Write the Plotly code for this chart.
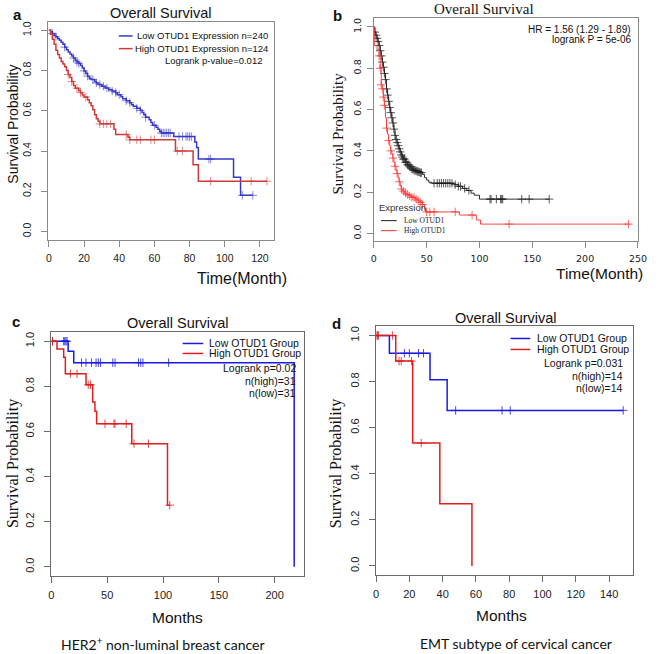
import plotly.graph_objects as go

W, H = 660, 654

# ---------------- Panel a (TCGA-like, months) ----------------
A_LOW_T = [0, 1, 2, 3, 4, 5, 6, 7, 8, 9, 10, 11, 12, 13, 14, 15, 16, 17, 18, 19, 20, 21, 22, 23, 24, 26, 27, 28,
           30, 32, 34, 36, 38, 39, 41, 42, 44, 46, 47, 48, 50, 52, 53, 54, 55, 57, 58, 59, 61, 62, 63, 64, 71,
           83, 84, 85, 105, 109, 116]
A_LOW_S = [1.0, 0.992, 0.984, 0.975, 0.967, 0.958, 0.95, 0.94, 0.93, 0.916, 0.903, 0.892, 0.882, 0.872, 0.862,
           0.85, 0.842, 0.835, 0.825, 0.812, 0.798, 0.785, 0.772, 0.762, 0.755, 0.745, 0.738, 0.73, 0.722, 0.713,
           0.705, 0.698, 0.69, 0.68, 0.67, 0.66, 0.65, 0.64, 0.63, 0.622, 0.612, 0.602, 0.592, 0.58, 0.568, 0.555,
           0.542, 0.528, 0.518, 0.508, 0.498, 0.49, 0.472, 0.445, 0.418, 0.36, 0.27, 0.18, 0.18]
A_LOW_CENS = [2, 4, 9, 14, 16, 17, 20, 22, 25, 27, 29, 31, 33, 36, 38, 40, 44, 46, 50, 52, 55, 60, 64, 65, 66, 67,
              68, 69, 74, 76, 78, 79, 80, 81, 91, 92, 110, 116]
A_HIGH_T = [0, 1, 2, 3, 4, 5, 6, 7, 8, 9, 10, 11, 12, 13, 14, 15, 17, 18, 19, 20, 22, 23, 24, 25, 26, 27, 28, 29,
            37, 38, 45, 46, 72, 82, 85, 124]
A_HIGH_S = [1.0, 0.98, 0.955, 0.93, 0.9, 0.88, 0.862, 0.845, 0.832, 0.818, 0.8, 0.78, 0.765, 0.745, 0.725, 0.712,
            0.7, 0.69, 0.678, 0.668, 0.655, 0.64, 0.625, 0.605, 0.58, 0.56, 0.548, 0.535, 0.508, 0.482, 0.468,
            0.456, 0.40, 0.332, 0.25, 0.25]
A_HIGH_CENS = [11, 13, 16, 18, 21, 29, 31, 33, 35, 44, 46, 50, 52, 58, 60, 73, 76, 92, 115, 124]

# ---------------- Panel b ----------------
B_LOW_T = [0, 1, 2, 3, 4, 5, 6, 7, 8, 9, 10, 11, 12, 13, 14, 15, 16, 17, 18, 19, 20, 21, 22, 23, 24, 25, 26, 27,
           28, 30, 32, 34, 36, 38, 40, 42, 44, 46, 48, 50, 52, 55, 76, 80, 84, 88, 92, 95, 100, 166]
B_LOW_S = [1.0, 0.975, 0.96, 0.945, 0.93, 0.91, 0.885, 0.86, 0.83, 0.805, 0.775, 0.745, 0.70, 0.67, 0.64, 0.61,
           0.585, 0.56, 0.535, 0.505, 0.475, 0.455, 0.44, 0.425, 0.41, 0.395, 0.38, 0.37, 0.36, 0.345, 0.332,
           0.322, 0.312, 0.306, 0.302, 0.298, 0.294, 0.285, 0.27, 0.258, 0.248, 0.243, 0.236, 0.228, 0.218,
           0.208, 0.195, 0.185, 0.166, 0.166]
B_LOW_CENS = [1, 2, 3, 4, 5, 6, 7, 8, 9, 10, 11, 12, 13, 14, 15, 16, 17, 18, 19, 20, 21, 22, 23, 24, 25, 26, 27,
              28, 29, 30, 31, 32, 33, 34, 35, 36, 37, 38, 39, 40, 41, 42, 43, 44, 45, 57, 60, 62, 64, 66, 68, 70,
              72, 74, 77, 80, 82, 86, 90, 110, 111, 116, 120, 121, 122, 140, 147, 166]
B_HIGH_T = [0, 0.5, 3, 5, 6, 7, 8, 9, 10, 11, 12, 13, 14, 15, 16, 17, 18, 19, 20, 21, 22, 23, 24, 25, 26, 27, 29,
            31, 33, 36, 39, 42, 44, 46, 48, 49, 81, 97, 101, 241]
B_HIGH_S = [1.0, 0.91, 0.89, 0.86, 0.80, 0.72, 0.70, 0.66, 0.62, 0.56, 0.51, 0.48, 0.45, 0.425, 0.40, 0.385,
            0.365, 0.345, 0.325, 0.305, 0.29, 0.27, 0.25, 0.23, 0.215, 0.205, 0.195, 0.188, 0.182, 0.175, 0.166,
            0.158, 0.15, 0.14, 0.12, 0.104, 0.089, 0.065, 0.045, 0.045]
B_HIGH_CENS = [5, 6, 7, 8, 9, 10, 12, 14, 16, 18, 20, 22, 24, 26, 28, 30, 32, 34, 36, 38, 40, 42, 44, 46, 50, 53,
               57, 77, 93, 128, 241]

# ---------------- Panel c ----------------
C_LOW_T = [0, 15, 20, 217.5]
C_LOW_S = [1.0, 0.955, 0.905, 0.0]
C_LOW_CENS = [1, 11, 12, 13, 14, 27, 31, 36, 40, 42, 44, 55, 57, 78, 80, 82, 105]
C_HIGH_T = [0, 5, 11, 12.5, 31, 37, 39, 40.5, 72, 104, 106]
C_HIGH_S = [1.0, 0.966, 0.929, 0.856, 0.807, 0.73, 0.69, 0.634, 0.546, 0.273, 0.273]
C_HIGH_CENS = [1, 17, 23, 33, 35, 48, 56, 57, 67, 74, 87, 106]

# ---------------- Panel d ----------------
D_LOW_T = [0, 8, 32.4, 42.7, 148.5]
D_LOW_S = [1.0, 0.923, 0.808, 0.675, 0.675]
D_LOW_CENS = [1, 17, 20, 25.5, 28.5, 47.8, 75.7, 80.6, 148.5]
D_HIGH_T = [0, 11.8, 22, 38.3, 57.6]
D_HIGH_S = [1.0, 0.889, 0.533, 0.27, 0.0]
D_HIGH_CENS = [0.5, 1.5, 9.8, 13.8, 15.1, 21.3, 27.1]


def surv_at(t, T, S):
    v = S[0]
    for ti, si in zip(T, S):
        if ti <= t:
            v = si
    return v


def px(x):
    return x / W


def py(y):
    return 1 - y / H


fig = go.Figure()


def add_km(T, S, cens, color, width, xa, ya, msize, mopacity=1.0, mwidth=1):
    fig.add_trace(go.Scatter(x=T, y=S, mode="lines", line=dict(color=color, width=width, shape="hv"),
                             xaxis=xa, yaxis=ya, hoverinfo="skip"))
    fig.add_trace(go.Scatter(x=cens, y=[surv_at(c, T, S) for c in cens], mode="markers",
                             marker=dict(symbol="cross-thin", size=msize, opacity=mopacity,
                                         line=dict(color=color, width=mwidth)),
                             xaxis=xa, yaxis=ya, hoverinfo="skip"))


A_BLUE, A_RED = "#3838c8", "#d03a3a"
B_BLACK, B_RED = "#1a1a1a", "#ff3030"
C_BLUE, C_RED = "#1a1ae6", "#e01e1e"

add_km(A_LOW_T, A_LOW_S, A_LOW_CENS, A_BLUE, 1.5, "x", "y", 6, 0.6)
add_km(A_HIGH_T, A_HIGH_S, A_HIGH_CENS, A_RED, 1.5, "x", "y", 6, 0.6)
add_km(B_LOW_T, B_LOW_S, B_LOW_CENS, B_BLACK, 0.9, "x2", "y2", 6, 0.9, 0.8)
add_km(B_HIGH_T, B_HIGH_S, B_HIGH_CENS, B_RED, 0.9, "x2", "y2", 6, 0.9, 0.8)
add_km(C_LOW_T, C_LOW_S, C_LOW_CENS, C_BLUE, 1.5, "x3", "y3", 6, 0.8)
add_km(C_HIGH_T, C_HIGH_S, C_HIGH_CENS, C_RED, 1.5, "x3", "y3", 6, 0.8)
add_km(D_LOW_T, D_LOW_S, D_LOW_CENS, C_BLUE, 1.5, "x4", "y4", 6, 0.8)
add_km(D_HIGH_T, D_HIGH_S, D_HIGH_CENS, C_RED, 1.5, "x4", "y4", 6, 0.8)


def axis(domain, rng, dtick, lc, fam, fs, anchor, is_y=False, standoff=3):
    d = dict(domain=domain, range=rng, dtick=dtick, tick0=0, showline=True, mirror=True, linecolor=lc,
             linewidth=1, ticks="outside", ticklen=6, tickcolor=lc, showgrid=False, zeroline=False,
             tickfont=dict(family=fam, size=fs, color="#222"), anchor=anchor, ticklabelstandoff=standoff)
    if is_y:
        d["tickangle"] = -90
        d["tickformat"] = ".1f"
    return d


SANS = "Liberation Sans, Arial, sans-serif"
SERIF = "Liberation Serif, Times New Roman, serif"

fig.update_layout(
    width=W, height=H, margin=dict(l=0, r=0, t=0, b=0), paper_bgcolor="white", plot_bgcolor="white",
    showlegend=False,
    xaxis=axis([px(46), px(276)], [-0.4, 128], 20, "#8a8a8a", SANS, 10.5, "y", standoff=3),
    yaxis=axis([py(239), py(21)], [-0.04, 1.041], 0.2, "#8a8a8a", SANS, 10.5, "x", True, standoff=6),
    xaxis2=axis([px(377.7), px(646.7)], [0, 250], 50, "#8a8a8a", "DejaVu Sans, sans-serif", 9.5, "y2", standoff=3),
    yaxis2=axis([py(240), py(16.7)], [-0.035, 1.045], 0.2, "#8a8a8a", "DejaVu Sans, sans-serif", 9.5, "x2", True,
                standoff=2),
    xaxis3=axis([px(49.3), px(306.7)], [0, 226.4], 50, "#6a6a6a", SANS, 11, "y3", standoff=3),
    yaxis3=axis([py(575.7), py(331.7)], [-0.04, 1.04], 0.2, "#6a6a6a", SANS, 11, "x3", True, standoff=6),
    xaxis4=axis([px(380), px(641.7)], [0, 154.4], 20, "#6a6a6a", SANS, 11, "y4", standoff=3),
    yaxis4=axis([py(575), py(325.8)], [-0.04, 1.04], 0.2, "#6a6a6a", SANS, 11, "x4", True, standoff=6),
)

anns = []


def ann(x, y, text, size, family=SANS, xanchor="center", angle=0, color="#111", bold=False):
    if bold:
        text = "<b>" + text + "</b>"
    anns.append(dict(x=px(x), y=py(y), xref="paper", yref="paper", text=text, showarrow=False,
                     xanchor=xanchor, yanchor="middle", textangle=angle,
                     font=dict(size=size, family=family, color=color)))


shapes = []


def seg(x0, x1, y, color, width):
    shapes.append(dict(type="line", xref="paper", yref="paper", x0=px(x0), x1=px(x1), y0=py(y), y1=py(y),
                       line=dict(color=color, width=width)))


# Panel a text
ann(8, 14, "a", 15, bold=True, xanchor="left")
ann(161, 12, "Overall Survival", 14.5)
ann(10, 123, "Survival Probability", 14, angle=-90)
ann(243, 278, "Time(Month)", 16)
seg(118, 132, 35, A_BLUE, 1.5)
seg(118, 132, 47.7, A_RED, 1.5)
ann(134, 35, "Low OTUD1 Expression n=240", 9.5, xanchor="left")
ann(132.5, 47.7, "High OTUD1 Expression n=124", 9.5, xanchor="left")
ann(265.5, 60, "Logrank p-value=0.012", 9.5, xanchor="right")

# Panel b text
ann(334, 15, "b", 15, bold=True, xanchor="left")
ann(490, 8.5, "Overall Survival", 15, family=SERIF)
ann(341, 133, "Survival Probability", 15, family=SERIF, angle=-90)
ann(608, 273, "Time(Month)", 15.5)
ann(642, 29, "HR = 1.56 (1.29 - 1.89)", 10, xanchor="right")
ann(642, 39, "logrank P = 5e-06", 10, xanchor="right")
ann(380.5, 207, "Expression", 9.5, xanchor="left", color="#333")
seg(385, 401, 220, B_BLACK, 1)
seg(385, 401, 230, B_RED, 1)
ann(406, 220, "Low OTUD1", 7.5, family=SERIF, xanchor="left", color="#222")
ann(406, 230, "High OTUD1", 7.5, family=SERIF, xanchor="left", color="#222")

# Panel c text
ann(7, 321, "c", 15, bold=True, xanchor="left")
ann(178, 322, "Overall Survival", 14.5)
ann(10, 463, "Survival Probability", 16, family=SERIF, angle=-90)
ann(178, 617.7, "Months", 15.5)
ann(163, 643, "HER2<sup>+</sup> non-luminal breast cancer", 14, family="Lato, sans-serif")
seg(183, 204, 343, C_BLUE, 1.5)
seg(183, 204, 353, C_RED, 1.5)
ann(208, 343, "Low OTUD1 Group", 10.5, xanchor="left")
ann(208, 353, "High OTUD1 Group", 10.5, xanchor="left")
ann(300, 368, "Logrank p=0.02", 10.5, xanchor="right")
ann(300, 381, "n(high)=31", 10.5, xanchor="right")
ann(300, 393, "n(low)=31", 10.5, xanchor="right")

# Panel d text
ann(333, 323, "d", 15, bold=True, xanchor="left")
ann(512, 317, "Overall Survival", 14.5)
ann(339, 463, "Survival Probability", 16, family=SERIF, angle=-90)
ann(508, 615, "Months", 15.5)
ann(523, 643, "EMT subtype of cervical cancer", 14, family="Lato, sans-serif")
seg(517, 537, 338, C_BLUE, 1.5)
seg(517, 537, 349, C_RED, 1.5)
ann(542, 338, "Low OTUD1 Group", 10.5, xanchor="left")
ann(542, 349, "High OTUD1 Group", 10.5, xanchor="left")
ann(634, 363, "Logrank p=0.031", 10.5, xanchor="right")
ann(634, 376, "n(high)=14", 10.5, xanchor="right")
ann(634, 388, "n(low)=14", 10.5, xanchor="right")

fig.update_layout(annotations=anns, shapes=shapes)
fig.write_html("out.html", config={"displayModeBar": False},
               post_script="document.body.style.margin='0px';document.body.style.overflow='hidden';")
